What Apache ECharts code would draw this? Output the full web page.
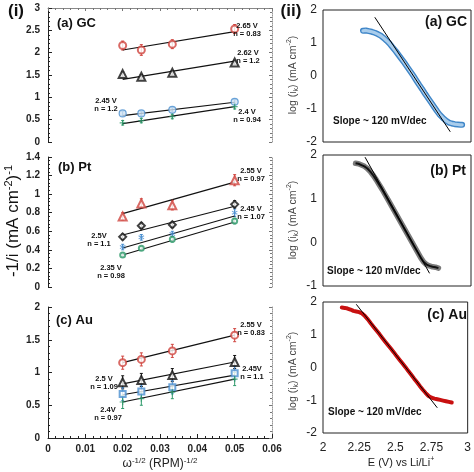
<!DOCTYPE html>
<html><head><meta charset="utf-8">
<script src="https://cdn.jsdelivr.net/npm/echarts@6/dist/echarts.min.js"></script>
<style>html,body{margin:0;padding:0;background:#fff}#c{width:474px;height:472px}</style>
</head><body><div id="c"></div>
<script>
// ---------- DATA ----------
const xRPM = [0.02, 0.025, 0.0333, 0.05];
const fitX = [0.02, 0.05];
// (a) GC
const gcRed = [2.16, 2.06, 2.19, 2.53];   const gcRedErr = [0.1, 0.12, 0.1, 0.1];   const gcRedFit = [2.06, 2.47];
const gcBlack = [1.52, 1.46, 1.55, 1.78]; const gcBlackErr = [0.05, 0.05, 0.05, 0.05]; const gcBlackFit = [1.40, 1.81];
const gcBlue = [0.64, 0.64, 0.72, 0.90];  const gcBlueErr = [0.05, 0.05, 0.05, 0.05];  const gcBlueFit = [0.59, 0.89];
const gcGreen = [0.43, 0.48, 0.57, 0.79]; const gcGreenErr = [0.05, 0.05, 0.05, 0.05]; const gcGreenFit = [0.41, 0.79];
// (b) Pt
const ptRed = [0.76, 0.90, 0.88, 1.15];   const ptRedErr = [0.04, 0.05, 0.05, 0.06];  const ptRedFit = [0.79, 1.13];
const ptBlack = [0.54, 0.66, 0.67, 0.89]; const ptBlackErr = [0.03, 0.03, 0.03, 0.04]; const ptBlackFit = [0.56, 0.87];
const ptBlue = [0.43, 0.535, 0.57, 0.80]; const ptBlueErr = [0.03, 0.03, 0.03, 0.04];  const ptBlueFit = [0.42, 0.765];
const ptGreen = [0.345, 0.417, 0.514, 0.71]; const ptGreenErr = [0.02, 0.02, 0.03, 0.03]; const ptGreenFit = [0.345, 0.70];
// (c) Au
const auRed = [1.15, 1.20, 1.33, 1.57];   const auRedErr = [0.1, 0.1, 0.1, 0.1];     const auRedFit = [1.15, 1.57];
const auBlack = [0.85, 0.886, 0.96, 1.16]; const auBlackErr = [0.1, 0.1, 0.1, 0.1];  const auBlackFit = [0.825, 1.16];
const auBlue = [0.67, 0.71, 0.775, 0.99]; const auBlueErr = [0.1, 0.1, 0.1, 0.1];    const auBlueFit = [0.66, 0.96];
const auGreen = [0.55, 0.60, 0.70, 0.90]; const auGreenErr = [0.1, 0.1, 0.1, 0.1];   const auGreenFit = [0.55, 0.90];

// Tafel curves
const gcE = [2.27,2.29,2.31,2.33,2.35,2.37,2.39,2.41,2.43,2.45,2.47,2.49,2.51,2.53,2.55,2.57,2.59,2.61,2.63,2.65,2.67,2.69,2.71,2.73,2.75,2.77,2.79,2.81,2.83,2.85,2.87,2.89,2.91,2.93,2.94];
const gcLog = [1.37,1.38,1.36,1.34,1.31,1.27,1.22,1.15,1.07,0.98,0.87,0.76,0.64,0.52,0.40,0.27,0.14,0.01,-0.13,-0.27,-0.40,-0.54,-0.67,-0.80,-0.93,-1.06,-1.18,-1.27,-1.35,-1.41,-1.44,-1.46,-1.47,-1.48,-1.48];
const gcFitE = [2.35, 2.86]; const gcFitLog = [1.78, -1.69];
const ptE = [2.22,2.24,2.26,2.28,2.30,2.32,2.34,2.36,2.38,2.40,2.42,2.44,2.46,2.48,2.50,2.52,2.54,2.56,2.58,2.60,2.62,2.64,2.66,2.68,2.70,2.72,2.74,2.76,2.78];
const ptLog = [1.81,1.80,1.77,1.74,1.69,1.62,1.53,1.43,1.32,1.21,1.09,0.97,0.85,0.73,0.61,0.49,0.37,0.25,0.13,0.01,-0.11,-0.23,-0.35,-0.45,-0.51,-0.54,-0.56,-0.57,-0.59];
const ptFitE = [2.284, 2.72]; const ptFitLog = [1.95, -0.71];
const auE = [2.13,2.15,2.17,2.19,2.21,2.23,2.25,2.27,2.29,2.31,2.33,2.35,2.37,2.39,2.41,2.43,2.45,2.47,2.49,2.51,2.53,2.55,2.57,2.59,2.61,2.63,2.65,2.67,2.69,2.71,2.73,2.75,2.77,2.79,2.81,2.83,2.85,2.87,2.89];
const auLog = [1.83,1.82,1.80,1.77,1.73,1.71,1.69,1.65,1.57,1.47,1.35,1.24,1.13,1.02,0.90,0.79,0.68,0.57,0.46,0.34,0.23,0.12,0.01,-0.11,-0.22,-0.34,-0.45,-0.57,-0.68,-0.78,-0.87,-0.92,-0.95,-0.97,-0.99,-1.01,-1.03,-1.05,-1.07];
const auFitE = [2.23, 2.79]; const auFitLog = [1.93, -1.23];

// ---------- STYLE ----------
const FONT = 'Liberation Sans, Arial, sans-serif';
const RED = '#d0453f', BLACK = '#111', BLUE = '#4a8fd0', GREEN = '#2f9a6b';
const PLUS = 'path://M4,0H6V4H10V6H6V10H4V6H0V4H4Z';
const STAR = 'path://M4.2,0H5.8V3.3L8.6,1.7L9.4,3.1L6.6,4.7V5.3L9.4,6.9L8.6,8.3L5.8,6.7V10H4.2V6.7L1.4,8.3L0.6,6.9L3.4,5.3V4.7L0.6,3.1L1.4,1.7L4.2,3.3Z';

const grids = [
  {left:48, top:8, width:224, height:134},
  {left:48, top:157, width:224, height:130},
  {left:48, top:307, width:224, height:131},
  {left:323, top:10, width:148, height:132, show:true, borderColor:'#222', borderWidth:1},
  {left:323, top:155, width:148, height:131, show:true, borderColor:'#222', borderWidth:1},
  {left:323, top:302, width:148, height:131, show:true, borderColor:'#222', borderWidth:1}
];

const xAxes = [], yAxes = [], series = [];

function addLeft(g, ymax, yint, showX, showTop) {
  const xi = xAxes.length;
  xAxes.push({type:'value', gridIndex:g, min:0, max:0.06, interval:0.01, position:'bottom',
    axisLine:{show:showX, onZero:false, lineStyle:{color:'#222'}},
    axisTick:{show:showX, inside:true, length:4, lineStyle:{color:'#222'}},
    minorTick:{show:showX, splitNumber:5, length:2, lineStyle:{color:'#222'}},
    axisLabel:{show:showX, fontFamily:FONT, fontSize:10, fontWeight:'bold', color:'#222', margin:6,
      formatter: v => (v === 0 ? '0' : String(+v.toFixed(2)))},
    splitLine:{show:false}});
  xAxes.push({type:'value', gridIndex:g, min:0, max:0.06, interval:0.01, position:'top',
    axisLine:{show:showTop, onZero:false, lineStyle:{color:'#888'}},
    axisTick:{show:showTop, inside:true, length:3, lineStyle:{color:'#777'}},
    minorTick:{show:showTop, splitNumber:5, length:2, lineStyle:{color:'#777'}},
    axisLabel:{show:false}, splitLine:{show:false}});
  const yi = yAxes.length;
  yAxes.push({type:'value', gridIndex:g, min:0, max:ymax, interval:yint, position:'left',
    axisLine:{show:true, onZero:false, lineStyle:{color:'#222'}},
    axisTick:{show:true, inside:true, length:4, lineStyle:{color:'#222'}},
    minorTick:{show:true, splitNumber:5, length:2, lineStyle:{color:'#222'}},
    axisLabel:{fontFamily:FONT, fontSize:10, fontWeight:'bold', color:'#222', margin:8},
    splitLine:{show:false}});
  yAxes.push({type:'value', gridIndex:g, min:0, max:ymax, interval:yint, position:'right',
    axisLine:{show:true, onZero:false, lineStyle:{color:'#999', type:'dotted'}},
    axisTick:{show:true, inside:true, length:3, lineStyle:{color:'#777'}},
    minorTick:{show:true, splitNumber:5, length:2, lineStyle:{color:'#777'}},
    axisLabel:{show:false}, splitLine:{show:false}});
  return [xi, yi];
}

function addRight(g, ymin, ymax, showX) {
  const xi = xAxes.length;
  xAxes.push({type:'value', gridIndex:g, min:2, max:3, interval:0.25, position:'bottom',
    axisLine:{show:false, onZero:false}, axisTick:{show:false},
    axisLabel:{show:showX, fontFamily:FONT, fontSize:12, color:'#222', margin:9},
    splitLine:{show:false}});
  const yi = yAxes.length;
  yAxes.push({type:'value', gridIndex:g, min:ymin, max:ymax, interval:1, position:'left',
    axisLine:{show:false, onZero:false}, axisTick:{show:false},
    axisLabel:{fontFamily:FONT, fontSize:12, color:'#222', margin:6},
    splitLine:{show:false}});
  return [xi, yi];
}

function errBar(params, api) {
  const x = api.value(0), y = api.value(1), e = api.value(2);
  const p1 = api.coord([x, y + e]), p2 = api.coord([x, y - e]);
  const c = api.visual('color');
  const st = {stroke:c, lineWidth:1};
  return {type:'group', children:[
    {type:'line', shape:{x1:p1[0], y1:p1[1], x2:p2[0], y2:p2[1]}, style:st},
    {type:'line', shape:{x1:p1[0]-1.5, y1:p1[1], x2:p1[0]+1.5, y2:p1[1]}, style:st},
    {type:'line', shape:{x1:p2[0]-1.5, y1:p2[1], x2:p2[0]+1.5, y2:p2[1]}, style:st}
  ]};
}

function addSet(ax, vals, errs, fit, color, symbol, size, fill) {
  series.push({type:'custom', xAxisIndex:ax[0], yAxisIndex:ax[1], renderItem:errBar,
    itemStyle:{color:color}, z:2, silent:true,
    data: xRPM.map((x, i) => [x, vals[i], errs[i]])});
  series.push({type:'line', xAxisIndex:ax[0], yAxisIndex:ax[1], symbol:'none', z:3,
    lineStyle:{color:'#111', width:1.2}, data: fitX.map((x, i) => [x, fit[i]])});
  const filled = !symbol.startsWith('empty');
  series.push({type:'scatter', xAxisIndex:ax[0], yAxisIndex:ax[1], symbol:symbol, symbolSize:size, z:4,
    itemStyle: fill ? {color:fill, borderColor:color, borderWidth:1.2} :
      (filled ? {color:color} : {color:color, borderWidth:1}),
    data: xRPM.map((x, i) => [x, vals[i]])});
}

const a0 = addLeft(0, 3, 0.5, false, true);
const a1 = addLeft(1, 1.4, 0.2, false, false);
const a2 = addLeft(2, 2, 0.5, true, false);
const r0 = addRight(3, -2, 2, false);
const r1 = addRight(4, -1, 2, false);
const r2 = addRight(5, -2, 2, true);

addSet(a0, gcRed, gcRedErr, gcRedFit, RED, 'emptyCircle', 7);
addSet(a0, gcBlack, gcBlackErr, gcBlackFit, BLACK, 'emptyTriangle', 8);
addSet(a0, gcBlue, gcBlueErr, gcBlueFit, BLUE, 'circle', 7, '#cfe2f3');
addSet(a0, gcGreen, gcGreenErr, gcGreenFit, GREEN, PLUS, 6);

addSet(a1, ptRed, ptRedErr, ptRedFit, RED, 'emptyTriangle', 8);
addSet(a1, ptBlack, ptBlackErr, ptBlackFit, BLACK, 'emptyDiamond', 7);
addSet(a1, ptBlue, ptBlueErr, ptBlueFit, BLUE, STAR, 6);
addSet(a1, ptGreen, ptGreenErr, ptGreenFit, GREEN, 'emptyCircle', 5);

addSet(a2, auRed, auRedErr, auRedFit, RED, 'emptyCircle', 7);
addSet(a2, auBlack, auBlackErr, auBlackFit, BLACK, 'emptyTriangle', 8);
addSet(a2, auBlue, auBlueErr, auBlueFit, BLUE, 'emptyRect', 6);
addSet(a2, auGreen, auGreenErr, auGreenFit, GREEN, PLUS, 6);

// Right panels
const gcPts = gcE.map((e, i) => [e, gcLog[i]]);
series.push({type:'line', xAxisIndex:r0[0], yAxisIndex:r0[1], symbol:'none',
  lineStyle:{color:'#3f86c8', width:6, cap:'round'}, data: gcPts});
series.push({type:'line', xAxisIndex:r0[0], yAxisIndex:r0[1], symbol:'none',
  lineStyle:{color:'#a9cdec', width:3.2, cap:'round'}, data: gcPts});
series.push({type:'line', xAxisIndex:r0[0], yAxisIndex:r0[1], symbol:'none', z:5,
  lineStyle:{color:'#000', width:1}, data: gcFitE.map((e, i) => [e, gcFitLog[i]])});

const ptPts = ptE.map((e, i) => [e, ptLog[i]]);
series.push({type:'line', xAxisIndex:r1[0], yAxisIndex:r1[1], symbol:'none',
  lineStyle:{color:'#7a7a7a', width:5.5, cap:'round'}, data: ptPts});
series.push({type:'line', xAxisIndex:r1[0], yAxisIndex:r1[1], symbol:'none',
  lineStyle:{color:'#111', width:2}, data: ptPts});
series.push({type:'line', xAxisIndex:r1[0], yAxisIndex:r1[1], symbol:'none', z:5,
  lineStyle:{color:'#000', width:1}, data: ptFitE.map((e, i) => [e, ptFitLog[i]])});

series.push({type:'line', xAxisIndex:r2[0], yAxisIndex:r2[1], symbol:'none',
  lineStyle:{color:'#c81010', width:4, cap:'round'}, data: auE.map((e, i) => [e, auLog[i]])});
series.push({type:'line', xAxisIndex:r2[0], yAxisIndex:r2[1], symbol:'none', z:5,
  lineStyle:{color:'#000', width:1}, data: auFitE.map((e, i) => [e, auFitLog[i]])});

// ---------- TEXT ----------
function txt(x, y, text, opt) {
  return Object.assign({type:'text', x:x, y:y, silent:true, z:50,
    style:Object.assign({text:text, font:'bold 8px ' + FONT, fill:'#111', align:'center', verticalAlign:'middle', lineHeight:8}, opt || {})});
}
const ann = (x, y, t) => txt(x, y, t, {font:'bold 7.5px ' + FONT, lineHeight:8.5});
const graphic = [
  txt(16, 11, '(i)', {font:'bold 17px ' + FONT}),
  txt(291, 11, '(ii)', {font:'bold 17px ' + FONT}),
  txt(57, 23, '(a) GC', {font:'bold 13px ' + FONT, align:'left'}),
  txt(58, 167, '(b) Pt', {font:'bold 13px ' + FONT, align:'left'}),
  txt(56, 320, '(c) Au', {font:'bold 13px ' + FONT, align:'left'}),
  txt(467, 22, '(a) GC', {font:'bold 14px ' + FONT, align:'right'}),
  txt(466, 171, '(b) Pt', {font:'bold 14px ' + FONT, align:'right'}),
  txt(467, 315, '(c) Au', {font:'bold 14px ' + FONT, align:'right'}),
  txt(333, 121, 'Slope ~ 120 mV/dec', {font:'bold 10px ' + FONT, align:'left'}),
  txt(327, 271, 'Slope ~ 120 mV/dec', {font:'bold 10px ' + FONT, align:'left'}),
  txt(328, 412, 'Slope ~ 120 mV/dec', {font:'bold 10px ' + FONT, align:'left'}),
  ann(247, 30, '2.65 V\nn = 0.83'),
  ann(248, 57, '2.62 V\nn = 1.2'),
  ann(247, 116, '2.4 V\nn = 0.94'),
  ann(106, 105, '2.45 V\nn = 1.2'),
  ann(251, 175, '2.55 V\nn = 0.97'),
  ann(251, 213, '2.45 V\nn = 1.07'),
  ann(99, 240, '2.5V\nn = 1.1'),
  ann(111, 272, '2.35 V\nn = 0.98'),
  ann(251, 329, '2.55 V\nn = 0.83'),
  ann(252, 373, '2.45V\nn = 1.1'),
  ann(104, 383, '2.5 V\nn = 1.09'),
  ann(108, 414, '2.4V\nn = 0.97'),
  // axis titles
  {type:'text', x:13, y:221, rotation:Math.PI/2, silent:true, z:50,
    style:{text:'{b|-1/i (mA cm}{s|-2}{b|)}{s|-1}', align:'center', verticalAlign:'middle',
      rich:{b:{font:'17px ' + FONT, fill:'#111', lineHeight:20},
            s:{font:'11px ' + FONT, fill:'#111', lineHeight:11, verticalAlign:'top'}}}},
  {type:'text', x:160, y:464, silent:true, z:50,
    style:{text:'{b|\u03c9}{s|-1/2}{b| (RPM)}{s|-1/2}', align:'center', verticalAlign:'middle',
      rich:{b:{font:'12px ' + FONT, fill:'#222', lineHeight:14},
            s:{font:'8px ' + FONT, fill:'#222', lineHeight:8, verticalAlign:'top'}}}},
  {type:'text', x:401, y:463, silent:true, z:50,
    style:{text:'{b|E (V) vs Li/Li}{s|+}', align:'center', verticalAlign:'middle',
      rich:{b:{font:'11px ' + FONT, fill:'#222', lineHeight:14},
            s:{font:'7px ' + FONT, fill:'#222', lineHeight:7, verticalAlign:'top'}}}}
];
function ylog(y) {
  return {type:'text', x:293, y:y, rotation:Math.PI/2, silent:true, z:50,
    style:{text:'{b|log (i}{u|k}{b|) (mA cm}{s|-2}{b|)}', align:'center', verticalAlign:'middle',
      rich:{b:{font:'10.5px ' + FONT, fill:'#444', lineHeight:14},
            s:{font:'7px ' + FONT, fill:'#444', lineHeight:7, verticalAlign:'top'},
            u:{font:'7px ' + FONT, fill:'#444', lineHeight:7, verticalAlign:'bottom'}}}};
}
graphic.push(ylog(75), ylog(220), ylog(371));

const chart = echarts.init(document.getElementById('c'), null, {renderer:'canvas'});
chart.setOption({
  animation:false,
  grid:grids,
  xAxis:xAxes,
  yAxis:yAxes,
  series:series,
  graphic:graphic
});
</script>
</body></html>
